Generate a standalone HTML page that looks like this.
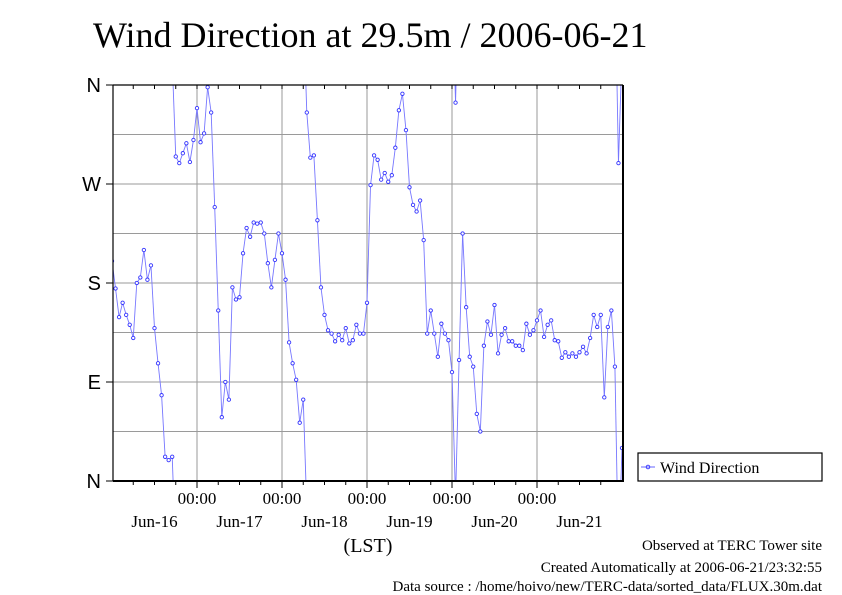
<!DOCTYPE html>
<html><head><meta charset="utf-8"><style>
body{margin:0;background:#fff;}
svg{display:block;font-family:"Liberation Serif",serif;}
</style></head><body>
<svg id="chart" width="842" height="595" viewBox="0 0 842 595">
<text x="93" y="47" font-size="36">Wind Direction at 29.5m / 2006-06-21</text>
<defs><clipPath id="pc"><rect x="113" y="85" width="510" height="396"/></clipPath></defs>
<g id="grid"></g>
<g id="series" clip-path="url(#pc)"></g>
<g id="axes"></g>
<text x="368" y="552" font-size="20" text-anchor="middle">(LST)</text>
<g>
<rect x="638" y="453" width="184" height="28" fill="#fff" stroke="#000" stroke-width="1.2"/>
<line x1="641" y1="467" x2="655" y2="467" stroke="#6666ff" stroke-width="1"/>
<circle cx="648" cy="467" r="1.8" fill="none" stroke="#3333ff" stroke-width="0.9"/>
<text x="660" y="473" font-size="16">Wind Direction</text>
</g>
<g font-size="15" text-anchor="end">
<text x="822" y="550">Observed at TERC Tower site</text>
<text x="822" y="572">Created Automatically at 2006-06-21/23:32:55</text>
<text x="822" y="595" dy="-4">Data source : /home/hoivo/new/TERC-data/sorted_data/FLUX.30m.dat</text>
</g>
</svg>
<script>
const startHour = 0;
const stepHours = 1;
const directionDeg = [200,175,149,162,151,142,130,180,185,210,183,196,139,107,78,22,19,22,295,289,298,307,290,310,339,308,316,358,335,249,155,58,90,74,176,165,167,207,230,222,235,234,235,225,198,176,201,225,
207,183,126,107,92,53,74,335,294,296,237,176,151,137,134,127,133,128,139,125,128,142,134,134,162,269,296,292,274,280,272,278,303,337,352,319,267,251,245,255,219,134,155,134,113,143,134,128,
99,344,110,225,158,113,104,61,45,123,145,133,160,116,133,139,127,127,123,123,119,143,133,137,146,155,131,142,146,128,127,112,117,113,116,113,117,122,116,130,151,140,151,76,140,155,104,289,30];
const yTickValues = [0,90,180,270,360];
const yTickLabels = ["N","E","S","W","N"];
const dayTicks = [24,48,72,96,120];
const dayLabels = ["Jun-16","Jun-17","Jun-18","Jun-19","Jun-20","Jun-21"];

const X0=112, PXH=85/24, Y0=481, PXD=396/360;
const xs = h => X0 + h*PXH;
const ys = d => Y0 - d*PXD;
const NS="http://www.w3.org/2000/svg";
function mk(tag, parent, attrs){const e=document.createElementNS(NS,tag);for(const k in attrs)e.setAttribute(k,attrs[k]);parent.appendChild(e);return e;}
const grid=document.getElementById('grid'), ser=document.getElementById('series'), axes=document.getElementById('axes');

for(let d=45; d<360; d+=45){
  const l=mk('line',grid,{x1:113,x2:623,y1:ys(d),y2:ys(d),stroke:'#9a9a9a','stroke-width':1});
  
  
}
dayTicks.forEach(h=>{
  const l=mk('line',grid,{x1:xs(h),x2:xs(h),y1:85,y2:481,stroke:'#9a9a9a','stroke-width':1});
  
  
});
mk('line',axes,{x1:113,x2:113,y1:85,y2:481,stroke:'#000','stroke-width':1.2});
mk('line',axes,{x1:113,x2:623,y1:85,y2:85,stroke:'#000','stroke-width':1.2});
mk('line',axes,{x1:113,x2:624,y1:481,y2:481,stroke:'#000','stroke-width':2});
mk('line',axes,{x1:623,x2:623,y1:85,y2:481,stroke:'#000','stroke-width':2});
for(let h=6; h<144; h+=6){
  const big = h%24===0;
  mk('line',axes,{x1:xs(h),x2:xs(h),y1:481,y2:big?488:485,stroke:'#000','stroke-width':1});
  mk('line',axes,{x1:xs(h),x2:xs(h),y1:85,y2:89,stroke:'#000','stroke-width':1});
}
yTickValues.forEach((v,i)=>{
  mk('line',axes,{x1:106,x2:113,y1:ys(v),y2:ys(v),stroke:'#000','stroke-width':1});
  const t=mk('text',axes,{x:101,y:ys(v)+7,'font-family':'Liberation Sans, sans-serif','font-size':20,'text-anchor':'end'});
  t.textContent=yTickLabels[i];
  
  
});
dayTicks.forEach(h=>{
  const t=mk('text',axes,{x:xs(h),y:504,'font-size':17,'text-anchor':'middle'});
  t.textContent='00:00';
  
  
});
dayLabels.forEach((s,i)=>{
  const t=mk('text',axes,{x:xs(i*24+12),y:527,'font-size':17,'text-anchor':'middle'});
  t.textContent=s;
  
  
});
for(let i=1;i<directionDeg.length;i++){
  const a=directionDeg[i-1], b=directionDeg[i];
  const h0=startHour+(i-1)*stepHours, h1=startHour+i*stepHours;
  let segs=[[a,b]];
  if(b-a>180) segs=[[a,b-360],[a+360,b]];
  else if(a-b>180) segs=[[a,b+360],[a-360,b]];
  segs.forEach(s=>{
    const l=mk('line',ser,{x1:xs(h0),y1:ys(s[0]),x2:xs(h1),y2:ys(s[1]),stroke:'#7777ff','stroke-width':0.9});
    
    
  });
}
directionDeg.forEach((d,i)=>{
  const c=mk('circle',ser,{cx:xs(startHour+i*stepHours),cy:ys(d),r:1.7,fill:'#fff',stroke:'#3333ff','stroke-width':0.9});
  
  
});
</script>
</body></html>
